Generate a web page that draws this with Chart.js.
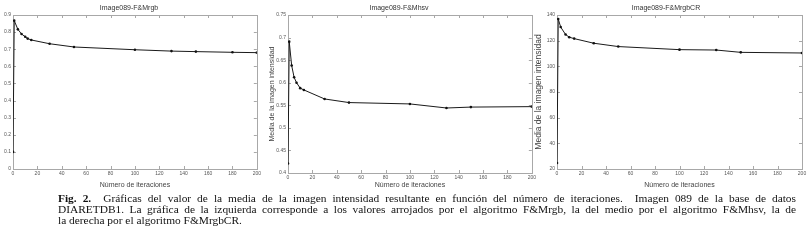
<!DOCTYPE html>
<html>
<head>
<meta charset="utf-8">
<script src="https://cdn.jsdelivr.net/npm/chart.js@4"></script>
<style>
    html, body { margin: 0; padding: 0; background: #fff; }
    body { width: 810px; height: 241px; position: relative; overflow: hidden; }
    canvas { position: absolute; top: 0; }
    #caption {
        position: absolute; left: 58px; top: 193px; width: 738px;
        font-family: "Liberation Serif", "Times New Roman", serif;
        font-size: 11.4px; line-height: 11px; color: #111;
    }
    #caption .j { text-align: justify; text-align-last: justify; white-space: nowrap; }
</style>
</head>
<body>
<canvas id="chartRgb" width="263" height="192" style="left:0px"></canvas>
<canvas id="chartRgbCR" width="280" height="192" style="left:530px"></canvas>
<canvas id="chartHsv" width="273" height="194" style="left:265px"></canvas>
<div id="caption">
    <div class="j"><b>Fig. 2.</b>&nbsp; Gráficas del valor de la media de la imagen intensidad resultante en función del número de iteraciones.&nbsp; Imagen 089 de la base de datos</div>
    <div class="j">DIARETDB1. La gráfica de la izquierda corresponde a los valores arrojados por el algoritmo F&amp;Mrgb, la del medio por el algoritmo F&amp;Mhsv, la de</div>
    <div>la derecha por el algoritmo F&amp;MrgbCR.</div>
</div>
<script>
// ===== datos =====
const xTicks = [0, 20, 40, 60, 80, 100, 120, 140, 160, 180, 200];

const itersRgb = [0, 1, 4, 7, 10, 12, 15, 30, 50, 100, 130, 150, 180, 200];
const valuesRgb = [0.10, 0.867, 0.816, 0.789, 0.773, 0.762, 0.754, 0.732, 0.713, 0.697, 0.689, 0.686, 0.682, 0.680];
const yTicksRgb = [0, 0.1, 0.2, 0.3, 0.4, 0.5, 0.6, 0.7, 0.8, 0.9];

const itersHsv = [0, 1, 3, 5, 7, 10, 13, 30, 50, 100, 130, 150, 200];
const valuesHsv = [0.421, 0.691, 0.638, 0.612, 0.600, 0.588, 0.584, 0.564, 0.556, 0.553, 0.544, 0.546, 0.547];
const yTicksHsv = [0.4, 0.45, 0.5, 0.55, 0.6, 0.65, 0.7, 0.75];

const itersRgbCR = [0, 1, 3, 7, 10, 14, 30, 50, 100, 130, 150, 200];
const valuesRgbCR = [24.7, 136.9, 130.6, 124.8, 122.7, 121.6, 118.0, 115.4, 113.0, 112.7, 110.9, 110.4];
const yTicksRgbCR = [20, 40, 60, 80, 100, 120, 140];

const FONT = '"Liberation Sans", Arial, sans-serif';

// marco y marcas hacia dentro, estilo MATLAB
const matlabFrame = {
    id: 'matlabFrame',
    beforeDatasetsDraw(chart) {
        const { ctx, chartArea: a, scales: { x, y } } = chart;
        ctx.save();
        ctx.strokeStyle = '#a8a8a8';
        ctx.lineWidth = 1;
        ctx.strokeRect(Math.round(a.left) + 0.5, Math.round(a.top) + 0.5,
            Math.round(a.right - a.left), Math.round(a.bottom - a.top));
        ctx.beginPath();
        x.ticks.forEach(t => {
            const px = Math.round(x.getPixelForValue(t.value)) + 0.5;
            ctx.moveTo(px, a.top); ctx.lineTo(px, a.top + 3);
            ctx.moveTo(px, a.bottom); ctx.lineTo(px, a.bottom - 3);
        });
        y.ticks.forEach(t => {
            const py = Math.round(y.getPixelForValue(t.value)) + 0.5;
            ctx.moveTo(a.left, py); ctx.lineTo(a.left + 3, py);
            ctx.moveTo(a.right, py); ctx.lineTo(a.right - 3, py);
        });
        ctx.stroke();
        ctx.restore();
    }
};

function makeChart(id, cfg) {
    const points = cfg.iters.map((it, i) => ({ x: it, y: cfg.values[i] }));
    return new Chart(document.getElementById(id), {
        type: 'line',
        data: {
            datasets: [{
                data: points,
                borderColor: '#1a1a1a',
                borderWidth: 1,
                pointRadius: 1.3,
                pointBackgroundColor: '#111',
                pointBorderWidth: 0,
                tension: 0
            }]
        },
        options: {
            responsive: false,
            animation: false,
            layout: { padding: { left: 0, right: cfg.padRight, top: 0, bottom: 0 } },
            plugins: {
                legend: { display: false },
                tooltip: { enabled: false },
                title: {
                    display: true,
                    text: cfg.title,
                    color: '#333',
                    font: { family: FONT, size: 7, weight: 'normal' },
                    padding: { top: 4, bottom: 2.6 }
                }
            },
            scales: {
                x: {
                    type: 'linear',
                    min: 0, max: 200,
                    afterBuildTicks: axis => { axis.ticks = xTicks.map(v => ({ value: v })); },
                    afterFit: axis => { axis.height = cfg.xHeight; },
                    grid: { display: false, drawTicks: false },
                    border: { display: false },
                    ticks: { color: '#555', font: { family: FONT, size: 5 }, padding: 2, maxRotation: 0 },
                    title: {
                        display: true,
                        text: 'Número de iteraciones',
                        color: '#444',
                        font: { family: FONT, size: 7 },
                        padding: { top: 0, bottom: cfg.xTitlePad }
                    }
                },
                y: {
                    min: cfg.yTicks[0], max: cfg.yTicks[cfg.yTicks.length - 1],
                    afterBuildTicks: axis => { axis.ticks = cfg.yTicks.map(v => ({ value: v })); },
                    afterFit: axis => { axis.width = cfg.yWidth; },
                    grid: { display: false, drawTicks: false },
                    border: { display: false },
                    ticks: { color: '#555', font: { family: FONT, size: 5 }, padding: 2, callback: v => String(v) },
                    title: {
                        display: !!cfg.yTitle,
                        text: cfg.yTitle || '',
                        color: '#444',
                        font: { family: FONT, size: cfg.yTitleSize || 7 },
                        padding: { top: cfg.yTitlePad || 0, bottom: 0 }
                    }
                }
            }
        },
        plugins: [matlabFrame]
    });
}

document.addEventListener('DOMContentLoaded', () => {
    // ===== izquierda: F&Mrgb =====
    makeChart('chartRgb', {
        title: 'Image089-F&Mrgb', iters: itersRgb, values: valuesRgb, yTicks: yTicksRgb,
        yWidth: 13, padRight: 5, xHeight: 23, xTitlePad: 3
    });
    // ===== medio: F&Mhsv =====
    makeChart('chartHsv', {
        title: 'Image089-F&Mhsv', iters: itersHsv, values: valuesHsv, yTicks: yTicksHsv,
        yWidth: 23, padRight: 5, xHeight: 21, xTitlePad: 5,
        yTitle: 'Media de la imagen intensidad', yTitleSize: 7, yTitlePad: 2.8
    });
    // ===== derecha: F&MrgbCR =====
    makeChart('chartRgbCR', {
        title: 'Image089-F&MrgbCR', iters: itersRgbCR, values: valuesRgbCR, yTicks: yTicksRgbCR,
        yWidth: 27, padRight: 8, xHeight: 23, xTitlePad: 3,
        yTitle: 'Media de la imagen intensidad', yTitleSize: 8.5, yTitlePad: 4
    });
});
</script>
</body>
</html>
